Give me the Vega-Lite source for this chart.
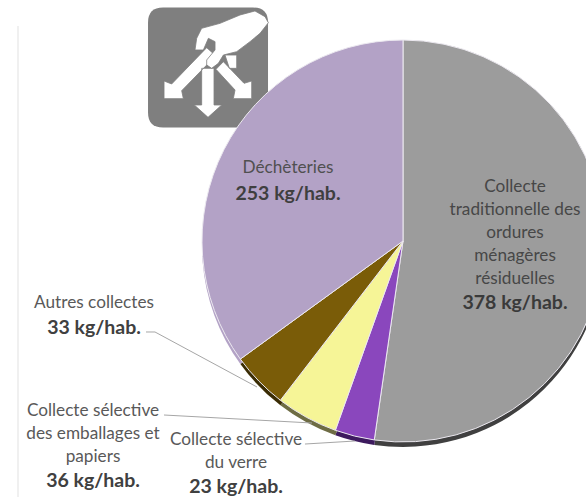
{
"$schema":"https://vega.github.io/schema/vega-lite/v6.json",
"width":586,"height":497,"padding":0,"autosize":{"type":"none"},
"background":"white",
"config":{"view":{"stroke":null},"axis":{"disable":true},"text":{"font":"Lato"}},
"data":{"values":[
{"categorie":"Collecte traditionnelle","kg":378,"rang":1,"nom":"Collecte|traditionnelle des|ordures|ménagères|résiduelles","etiquette":"378 kg/hab."},
{"categorie":"Verre","kg":23,"rang":2,"nom":"Collecte sélective|du verre","etiquette":"23 kg/hab."},
{"categorie":"Emballages","kg":36,"rang":3,"nom":"Collecte sélective|des emballages et|papiers","etiquette":"36 kg/hab."},
{"categorie":"Autres","kg":33,"rang":4,"nom":"Autres collectes","etiquette":"33 kg/hab."},
{"categorie":"Déchèteries","kg":253,"rang":5,"nom":"Déchèteries","etiquette":"253 kg/hab."}
]},
"layer":[
{"transform":[{"filter":"datum.rang==1"}],"mark":{"type":"rule","color":"#f0f0f0","strokeWidth":2},
 "encoding":{"x":{"datum":-1.9154,"type":"quantitative","scale":{"domain":[-2.005,0.9104],"nice":false,"zero":false}},"y":{"datum":1.0697,"type":"quantitative","scale":{"domain":[-1.2736,1.199],"nice":false,"zero":false}},"y2":{"datum":-1.2736}}},
{"transform":[{"filter":"datum.rang==1"}],"mark":{"type":"point","filled":true,"opacity":1,"color":"#7f7f7f","size":14400,"shape":"M-0.75,-1 L0.75,-1 Q1,-1 1,-0.75 L1,0.75 Q1,1 0.75,1 L-0.75,1 Q-1,1 -1,0.75 L-1,-0.75 Q-1,-1 -0.75,-1 Z"},
 "encoding":{"x":{"datum":-0.9701,"type":"quantitative"},"y":{"datum":0.8632,"type":"quantitative"}}},
{"transform":[{"filter":"datum.rang==1"}],"mark":{"type":"point","filled":true,"opacity":1,"fill":"white","stroke":"#7f7f7f","strokeWidth":0.8,"size":14400,"shape":"M0.283,-0.208 L0.478,-0.208 L0.478,0.014 L0.356,0.014 Z M-0.106,0.014 L0.1,0.014 L0.1,0.625 L0.228,0.625 L0,0.831 L-0.228,0.625 L-0.106,0.625 Z M0.133,0.031 L0.256,-0.097 L0.6,0.264 L0.728,0.225 L0.728,0.519 L0.422,0.519 L0.45,0.375 Z M-0.022,-0.331 L0.133,-0.192 L0.006,-0.069 L-0.439,0.386 L-0.411,0.519 L-0.733,0.519 L-0.733,0.225 L-0.606,0.275 Z"},
 "encoding":{"x":{"datum":-0.9701,"type":"quantitative"},"y":{"datum":0.8632,"type":"quantitative"}}},
{"transform":[{"filter":"datum.rang==1"}],"mark":{"type":"point","filled":true,"opacity":1,"fill":"white","stroke":"#7f7f7f","strokeWidth":0.8,"size":14400,"shape":"M0.783,-0.942 L0.95,-0.847 L1.006,-0.747 L0.867,-0.569 L0.7,-0.431 L0.478,-0.264 L0.256,-0.208 L0.172,-0.069 L0.061,0.014 L-0.022,-0.042 L-0.022,-0.125 L0.117,-0.292 L0.117,-0.431 L0.006,-0.486 L-0.078,-0.292 L-0.217,-0.292 L-0.189,-0.486 L-0.106,-0.653 L0.2,-0.736 L0.533,-0.875 Z"},
 "encoding":{"x":{"datum":-0.9701,"type":"quantitative"},"y":{"datum":0.8632,"type":"quantitative"}}},
{"mark":{"type":"arc","outerRadius":201},
 "encoding":{"x":{"datum":0,"type":"quantitative"},"y":{"datum":-0.0249,"type":"quantitative"},"theta":{"field":"kg","type":"quantitative","stack":true},"order":{"field":"rang","type":"ordinal"},
 "color":{"field":"categorie","type":"nominal","legend":null,"scale":{"domain":["Collecte traditionnelle","Verre","Emballages","Autres","Déchèteries"],"range":["#404040","#3d1a5e","#6e6c44","#3a2c04","#b3a2c6"]}}}},
{"mark":{"type":"arc","outerRadius":201,"stroke":"#ece9f0","strokeWidth":1},
 "encoding":{"x":{"datum":0,"type":"quantitative"},"y":{"datum":0,"type":"quantitative"},"theta":{"field":"kg","type":"quantitative","stack":true},"order":{"field":"rang","type":"ordinal"},
 "fill":{"field":"categorie","type":"nominal","legend":null,"scale":{"domain":["Collecte traditionnelle","Verre","Emballages","Autres","Déchèteries"],"range":["#9c9c9c","#8a47bd","#f6f597","#7a5c08","#b3a2c6"]}}}},
{"transform":[{"filter":"datum.rang==4"}],"mark":{"type":"rule","color":"#a6a6a6","strokeWidth":1},"encoding":{"x":{"datum":-1.2786,"type":"quantitative"},"y":{"datum":-0.4527,"type":"quantitative"},"x2":{"datum":-1.2338},"y2":{"datum":-0.4527}}},
{"transform":[{"filter":"datum.rang==4"}],"mark":{"type":"rule","color":"#a6a6a6","strokeWidth":1},"encoding":{"x":{"datum":-1.2338,"type":"quantitative"},"y":{"datum":-0.4527,"type":"quantitative"},"x2":{"datum":-0.7264},"y2":{"datum":-0.7264}}},
{"transform":[{"filter":"datum.rang==3"}],"mark":{"type":"rule","color":"#a6a6a6","strokeWidth":1},"encoding":{"x":{"datum":-1.1891,"type":"quantitative"},"y":{"datum":-0.8657,"type":"quantitative"},"x2":{"datum":-0.4527},"y2":{"datum":-0.9055}}},
{"transform":[{"filter":"datum.rang==2"}],"mark":{"type":"rule","color":"#a6a6a6","strokeWidth":1},"encoding":{"x":{"datum":-0.4876,"type":"quantitative"},"y":{"datum":-1.01,"type":"quantitative"},"x2":{"datum":-0.2388},"y2":{"datum":-0.995}}},
{"transform":[{"filter":"datum.rang==1"}],"mark":{"type":"text","lineBreak":"|","lineHeight":23,"fontSize":17.2,"color":"#474747","align":"center","baseline":"middle"},"encoding":{"x":{"datum":0.5572,"type":"quantitative"},"y":{"datum":0.2687,"type":"quantitative"},"text":{"field":"nom"}}},
{"transform":[{"filter":"datum.rang==1"}],"mark":{"type":"text","fontSize":19.5,"fontWeight":"bold","color":"#3a3a3a","align":"center","baseline":"middle"},"encoding":{"x":{"datum":0.5572,"type":"quantitative"},"y":{"datum":-0.3085,"type":"quantitative"},"text":{"field":"etiquette"}}},
{"transform":[{"filter":"datum.rang==5"}],"mark":{"type":"text","lineBreak":"|","lineHeight":23,"fontSize":17.2,"color":"#505050","align":"center","baseline":"middle"},"encoding":{"x":{"datum":-0.5721,"type":"quantitative"},"y":{"datum":0.3632,"type":"quantitative"},"text":{"field":"nom"}}},
{"transform":[{"filter":"datum.rang==5"}],"mark":{"type":"text","fontSize":19.5,"fontWeight":"bold","color":"#3f3f3f","align":"center","baseline":"middle"},"encoding":{"x":{"datum":-0.5721,"type":"quantitative"},"y":{"datum":0.2338,"type":"quantitative"},"text":{"field":"etiquette"}}},
{"transform":[{"filter":"datum.rang==4"}],"mark":{"type":"text","lineBreak":"|","lineHeight":23,"fontSize":17.2,"color":"#595959","align":"center","baseline":"middle"},"encoding":{"x":{"datum":-1.5373,"type":"quantitative"},"y":{"datum":-0.3085,"type":"quantitative"},"text":{"field":"nom"}}},
{"transform":[{"filter":"datum.rang==4"}],"mark":{"type":"text","fontSize":19.5,"fontWeight":"bold","color":"#404040","align":"center","baseline":"middle"},"encoding":{"x":{"datum":-1.5373,"type":"quantitative"},"y":{"datum":-0.4328,"type":"quantitative"},"text":{"field":"etiquette"}}},
{"transform":[{"filter":"datum.rang==3"}],"mark":{"type":"text","lineBreak":"|","lineHeight":23,"fontSize":17.2,"color":"#595959","align":"center","baseline":"middle"},"encoding":{"x":{"datum":-1.5423,"type":"quantitative"},"y":{"datum":-0.8458,"type":"quantitative"},"text":{"field":"nom"}}},
{"transform":[{"filter":"datum.rang==3"}],"mark":{"type":"text","fontSize":19.5,"fontWeight":"bold","color":"#404040","align":"center","baseline":"middle"},"encoding":{"x":{"datum":-1.5423,"type":"quantitative"},"y":{"datum":-1.194,"type":"quantitative"},"text":{"field":"etiquette"}}},
{"transform":[{"filter":"datum.rang==2"}],"mark":{"type":"text","lineBreak":"|","lineHeight":23,"fontSize":17.2,"color":"#595959","align":"center","baseline":"middle"},"encoding":{"x":{"datum":-0.8308,"type":"quantitative"},"y":{"datum":-0.99,"type":"quantitative"},"text":{"field":"nom"}}},
{"transform":[{"filter":"datum.rang==2"}],"mark":{"type":"text","fontSize":19.5,"fontWeight":"bold","color":"#404040","align":"center","baseline":"middle"},"encoding":{"x":{"datum":-0.8308,"type":"quantitative"},"y":{"datum":-1.2239,"type":"quantitative"},"text":{"field":"etiquette"}}}
]
}
